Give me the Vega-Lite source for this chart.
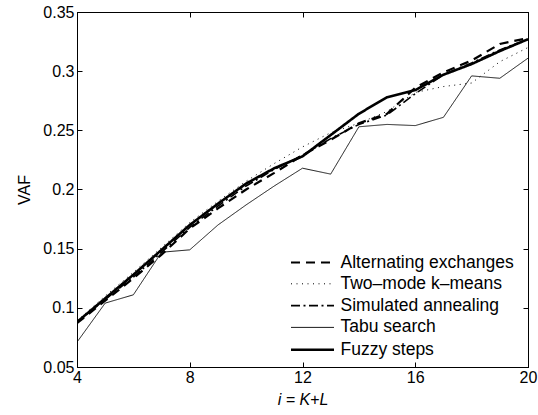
{
  "$schema": "https://vega.github.io/schema/vega-lite/v6.json",
  "width": 451,
  "height": 355,
  "autosize": "none",
  "padding": {"left": 77, "top": 12, "right": 10, "bottom": 48},
  "background": "white",
  "view": {"stroke": "black", "strokeWidth": 1},
  "config": {
    "font": "Liberation Sans",
    "axis": {
      "grid": false,
      "domainColor": "black",
      "domainWidth": 1,
      "tickColor": "black",
      "tickSize": -5,
      "tickWidth": 1,
      "labelColor": "black",
      "labelFont": "Liberation Sans",
      "labelFontSize": 16,
      "titleColor": "black",
      "titleFont": "Liberation Sans",
      "titleFontSize": 16,
      "titleFontWeight": "normal"
    },
    "legend": {
      "labelFont": "Liberation Sans",
      "labelFontSize": 17.5,
      "labelColor": "black",
      "labelLimit": 400
    }
  },
  "data": {
    "values": [
      {"i": 4, "method": "Alternating exchanges", "vaf": 0.087},
      {"i": 5, "method": "Alternating exchanges", "vaf": 0.106},
      {"i": 6, "method": "Alternating exchanges", "vaf": 0.125},
      {"i": 7, "method": "Alternating exchanges", "vaf": 0.145},
      {"i": 8, "method": "Alternating exchanges", "vaf": 0.167},
      {"i": 9, "method": "Alternating exchanges", "vaf": 0.184},
      {"i": 10, "method": "Alternating exchanges", "vaf": 0.200},
      {"i": 11, "method": "Alternating exchanges", "vaf": 0.214},
      {"i": 12, "method": "Alternating exchanges", "vaf": 0.229},
      {"i": 13, "method": "Alternating exchanges", "vaf": 0.242},
      {"i": 14, "method": "Alternating exchanges", "vaf": 0.256},
      {"i": 15, "method": "Alternating exchanges", "vaf": 0.264},
      {"i": 16, "method": "Alternating exchanges", "vaf": 0.286},
      {"i": 17, "method": "Alternating exchanges", "vaf": 0.299},
      {"i": 18, "method": "Alternating exchanges", "vaf": 0.309},
      {"i": 19, "method": "Alternating exchanges", "vaf": 0.323},
      {"i": 20, "method": "Alternating exchanges", "vaf": 0.328},

      {"i": 4, "method": "Two\u2013mode k\u2013means", "vaf": 0.089},
      {"i": 5, "method": "Two\u2013mode k\u2013means", "vaf": 0.110},
      {"i": 6, "method": "Two\u2013mode k\u2013means", "vaf": 0.130},
      {"i": 7, "method": "Two\u2013mode k\u2013means", "vaf": 0.151},
      {"i": 8, "method": "Two\u2013mode k\u2013means", "vaf": 0.172},
      {"i": 9, "method": "Two\u2013mode k\u2013means", "vaf": 0.190},
      {"i": 10, "method": "Two\u2013mode k\u2013means", "vaf": 0.207},
      {"i": 11, "method": "Two\u2013mode k\u2013means", "vaf": 0.222},
      {"i": 12, "method": "Two\u2013mode k\u2013means", "vaf": 0.236},
      {"i": 13, "method": "Two\u2013mode k\u2013means", "vaf": 0.248},
      {"i": 14, "method": "Two\u2013mode k\u2013means", "vaf": 0.256},
      {"i": 15, "method": "Two\u2013mode k\u2013means", "vaf": 0.266},
      {"i": 16, "method": "Two\u2013mode k\u2013means", "vaf": 0.282},
      {"i": 17, "method": "Two\u2013mode k\u2013means", "vaf": 0.287},
      {"i": 18, "method": "Two\u2013mode k\u2013means", "vaf": 0.290},
      {"i": 19, "method": "Two\u2013mode k\u2013means", "vaf": 0.308},
      {"i": 20, "method": "Two\u2013mode k\u2013means", "vaf": 0.320},

      {"i": 4, "method": "Simulated annealing", "vaf": 0.088},
      {"i": 5, "method": "Simulated annealing", "vaf": 0.107},
      {"i": 6, "method": "Simulated annealing", "vaf": 0.126},
      {"i": 7, "method": "Simulated annealing", "vaf": 0.147},
      {"i": 8, "method": "Simulated annealing", "vaf": 0.168},
      {"i": 9, "method": "Simulated annealing", "vaf": 0.186},
      {"i": 10, "method": "Simulated annealing", "vaf": 0.203},
      {"i": 11, "method": "Simulated annealing", "vaf": 0.217},
      {"i": 12, "method": "Simulated annealing", "vaf": 0.229},
      {"i": 13, "method": "Simulated annealing", "vaf": 0.243},
      {"i": 14, "method": "Simulated annealing", "vaf": 0.255},
      {"i": 15, "method": "Simulated annealing", "vaf": 0.263},
      {"i": 16, "method": "Simulated annealing", "vaf": 0.281},
      {"i": 17, "method": "Simulated annealing", "vaf": 0.297},
      {"i": 18, "method": "Simulated annealing", "vaf": 0.307},
      {"i": 19, "method": "Simulated annealing", "vaf": 0.318},
      {"i": 20, "method": "Simulated annealing", "vaf": 0.327},

      {"i": 4, "method": "Tabu search", "vaf": 0.071},
      {"i": 5, "method": "Tabu search", "vaf": 0.104},
      {"i": 6, "method": "Tabu search", "vaf": 0.111},
      {"i": 7, "method": "Tabu search", "vaf": 0.147},
      {"i": 8, "method": "Tabu search", "vaf": 0.149},
      {"i": 9, "method": "Tabu search", "vaf": 0.170},
      {"i": 10, "method": "Tabu search", "vaf": 0.187},
      {"i": 11, "method": "Tabu search", "vaf": 0.203},
      {"i": 12, "method": "Tabu search", "vaf": 0.218},
      {"i": 13, "method": "Tabu search", "vaf": 0.213},
      {"i": 14, "method": "Tabu search", "vaf": 0.253},
      {"i": 15, "method": "Tabu search", "vaf": 0.255},
      {"i": 16, "method": "Tabu search", "vaf": 0.254},
      {"i": 17, "method": "Tabu search", "vaf": 0.261},
      {"i": 18, "method": "Tabu search", "vaf": 0.296},
      {"i": 19, "method": "Tabu search", "vaf": 0.294},
      {"i": 20, "method": "Tabu search", "vaf": 0.311},

      {"i": 4, "method": "Fuzzy steps", "vaf": 0.088},
      {"i": 5, "method": "Fuzzy steps", "vaf": 0.108},
      {"i": 6, "method": "Fuzzy steps", "vaf": 0.128},
      {"i": 7, "method": "Fuzzy steps", "vaf": 0.149},
      {"i": 8, "method": "Fuzzy steps", "vaf": 0.170},
      {"i": 9, "method": "Fuzzy steps", "vaf": 0.188},
      {"i": 10, "method": "Fuzzy steps", "vaf": 0.205},
      {"i": 11, "method": "Fuzzy steps", "vaf": 0.218},
      {"i": 12, "method": "Fuzzy steps", "vaf": 0.228},
      {"i": 13, "method": "Fuzzy steps", "vaf": 0.246},
      {"i": 14, "method": "Fuzzy steps", "vaf": 0.264},
      {"i": 15, "method": "Fuzzy steps", "vaf": 0.278},
      {"i": 16, "method": "Fuzzy steps", "vaf": 0.284},
      {"i": 17, "method": "Fuzzy steps", "vaf": 0.297},
      {"i": 18, "method": "Fuzzy steps", "vaf": 0.306},
      {"i": 19, "method": "Fuzzy steps", "vaf": 0.317},
      {"i": 20, "method": "Fuzzy steps", "vaf": 0.327}
    ]
  },
  "layer": [
    {
      "mark": {"type": "line", "color": "black", "clip": true},
      "encoding": {
        "x": {
          "field": "i", "type": "quantitative",
          "scale": {"domain": [4, 20], "nice": false, "zero": false},
          "axis": {"orient": "bottom", "values": [4, 8, 12, 16, 20], "title": "i = K+L",
                   "titleFontStyle": "italic", "labelPadding": 7, "titlePadding": 6, "labelFlush": false}
        },
        "y": {
          "field": "vaf", "type": "quantitative",
          "scale": {"domain": [0.05, 0.35], "nice": false, "zero": false},
          "axis": {"orient": "left", "values": [0.05, 0.1, 0.15, 0.2, 0.25, 0.3, 0.35], "format": ".2~f",
                   "title": "VAF", "labelPadding": 8, "titlePadding": 10}
        },
        "strokeDash": {
          "field": "method", "type": "nominal",
          "scale": {
            "domain": ["Alternating exchanges", "Two\u2013mode k\u2013means", "Simulated annealing", "Tabu search", "Fuzzy steps"],
            "range": [[9, 6], [1, 4.5], [9, 3.5, 2, 3.5], [1, 0], [1, 0]]
          },
          "legend": {
            "title": null, "orient": "none", "legendX": 224, "legendY": 239,
            "symbolType": "M-2.15,0H2.15", "symbolSize": 400, "symbolStrokeColor": "black",
            "symbolFillColor": "transparent",
            "rowPadding": 2.3, "labelOffset": 16.5, "padding": 0
          }
        },
        "strokeWidth": {
          "field": "method", "type": "nominal",
          "scale": {
            "type": "ordinal",
            "domain": ["Alternating exchanges", "Two\u2013mode k\u2013means", "Simulated annealing", "Tabu search", "Fuzzy steps"],
            "range": [2.2, 1, 1.6, 0.9, 2.6]
          }
        }
      }
    },
    {
      "mark": {"type": "line", "opacity": 0},
      "encoding": {
        "x": {
          "field": "i", "type": "quantitative",
          "scale": {"domain": [4, 20], "nice": false, "zero": false},
          "axis": {"orient": "top", "values": [4, 8, 12, 16, 20], "labels": false, "title": null, "domain": true}
        },
        "y": {
          "field": "vaf", "type": "quantitative",
          "scale": {"domain": [0.05, 0.35], "nice": false, "zero": false},
          "axis": {"orient": "right", "values": [0.05, 0.1, 0.15, 0.2, 0.25, 0.3, 0.35], "labels": false, "title": null, "domain": true}
        },
        "detail": {"field": "method", "type": "nominal"}
      }
    }
  ],
  "resolve": {
    "scale": {"x": "independent", "y": "independent"},
    "axis": {"x": "independent", "y": "independent"}
  }
}
